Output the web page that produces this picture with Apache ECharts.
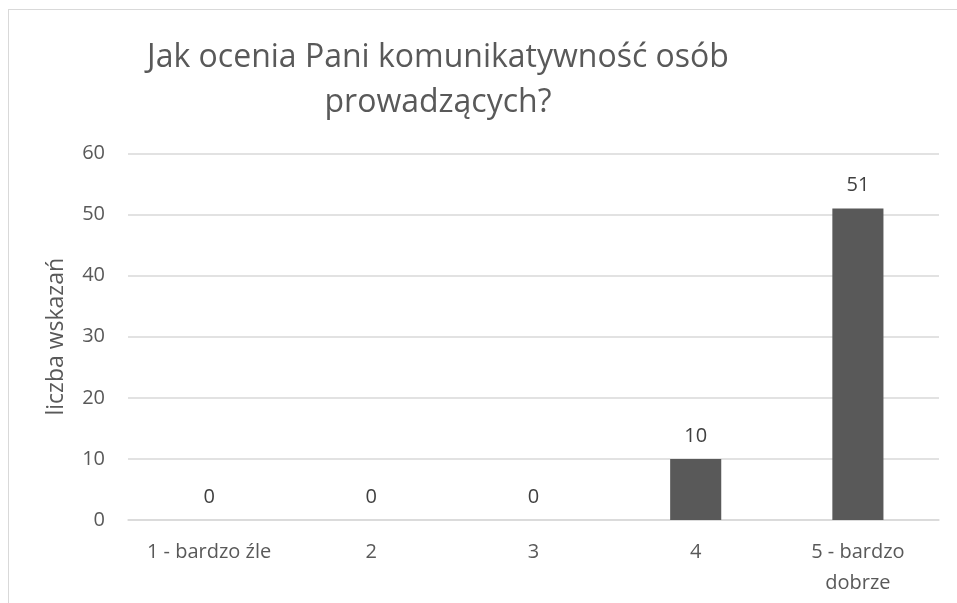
<!DOCTYPE html>
<html><head><meta charset="utf-8">
<script src="https://cdn.jsdelivr.net/npm/echarts@6/dist/echarts.min.js"></script>
<style>
html,body{margin:0;padding:0;background:#fff;}
#frame{position:absolute;left:8px;top:9px;width:1000px;height:700px;border-left:1px solid #d9d9d9;border-top:1px solid #d9d9d9;}
#c{position:absolute;left:0;top:0;width:957px;height:603px;}
</style></head>
<body><div id="frame"></div><div id="c"></div>
<script>
const titleText = 'Jak ocenia Pani komunikatywność osób\nprowadzących?';
const categories = ['1 - bardzo źle', '2', '3', '4', '5 - bardzo\ndobrze'];
const values = [0, 0, 0, 10, 51];
const yTicks = [0, 10, 20, 30, 40, 50, 60];
const yName = 'liczba wskazań';

const chart = echarts.init(document.getElementById('c'));
const font = 'Open Sans';
chart.setOption({
  animation: false,
  backgroundColor: 'transparent',
  title: {
    text: titleText, left: 433, top: 30, textAlign: 'center',
    textStyle: {fontFamily: font, fontSize: 32, fontWeight: 'normal', color: '#595959', lineHeight: 45}
  },
  grid: {left: 128, right: 18, top: 153.5, bottom: 83, containLabel: false},
  xAxis: {
    type: 'category', data: categories,
    axisLine: {show: true, lineStyle: {color: '#d9d9d9', width: 1.5}},
    axisTick: {show: false},
    axisLabel: {fontFamily: font, fontSize: 20, color: '#595959', margin: 17, lineHeight: 31, interval: 0}
  },
  yAxis: {
    type: 'value', min: yTicks[0], max: yTicks[yTicks.length-1], interval: 10,
    name: yName, nameLocation: 'middle', nameGap: 60,
    nameTextStyle: {fontFamily: font, fontSize: 23, color: '#595959'},
    axisLine: {show: false}, axisTick: {show: false},
    axisLabel: {fontFamily: font, fontSize: 20, color: '#595959', margin: 23},
    splitLine: {lineStyle: {color: '#d9d9d9', width: 1.5}}
  },
  series: [{
    type: 'bar', data: values, barWidth: '31.5%',
    itemStyle: {color: '#595959'},
    label: {show: true, position: 'top', distance: 13, fontFamily: font, fontSize: 20, color: '#404040'}
  }]
});
</script></body></html>
